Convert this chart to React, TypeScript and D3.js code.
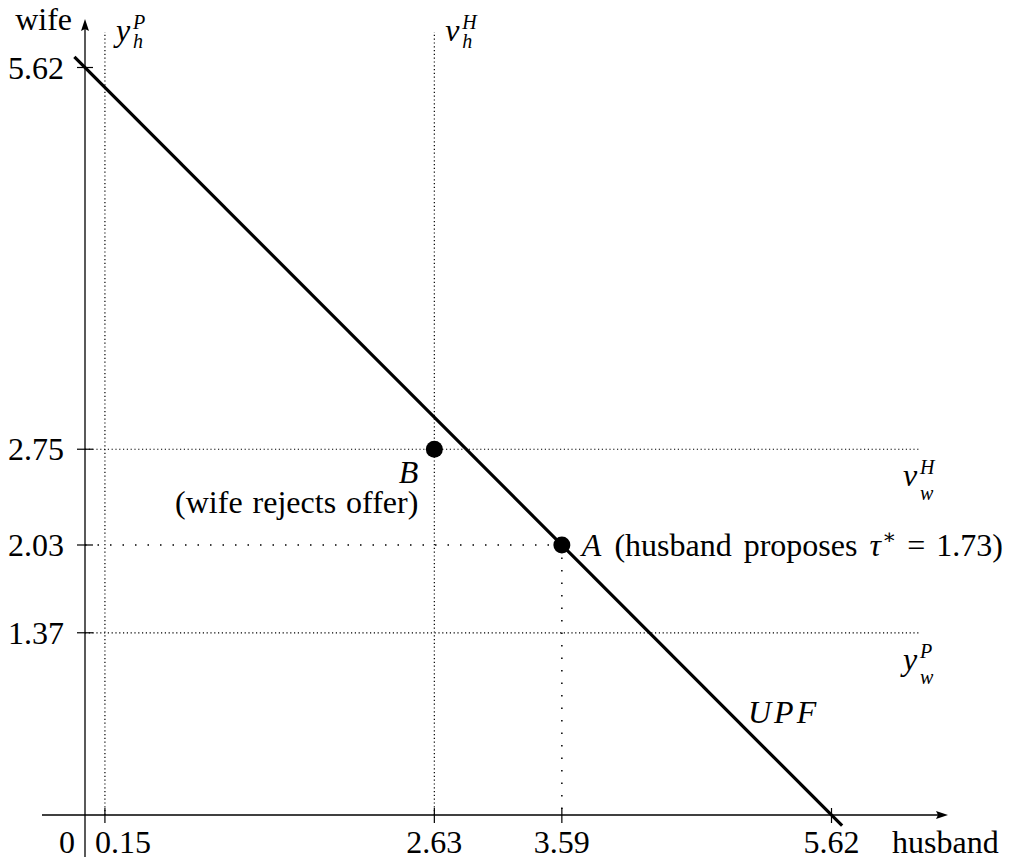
import React from 'react';
import * as d3 from 'd3';

// values
const axisMax = 5.62;
const xTicks = [0.15, 2.63, 3.59, 5.62];
const yTicks = [5.62, 2.75, 2.03, 1.37];
const upfIntercept = 5.62;
const upfExtent = [-0.08, 5.7];
const vertRefs = [
  { value: 0.15, main: 'y', sup: 'P', sub: 'h' },
  { value: 2.63, main: 'v', sup: 'H', sub: 'h' },
];
const horizRefs = [
  { value: 2.75, main: 'v', sup: 'H', sub: 'w' },
  { value: 1.37, main: 'y', sup: 'P', sub: 'w' },
];
const pointA = { x: 3.59, y: 2.03 };
const pointB = { x: 2.63, y: 2.75 };
const tauStar = 1.73;

const W = 1017;
const H = 859;
const FONT = "'Liberation Serif', 'DejaVu Serif', serif";

const x = d3.scaleLinear().domain([0, axisMax]).range([85, 831.5]);
const y = d3.scaleLinear().domain([0, axisMax]).range([815, 67.5]);

const dense = { stroke: '#000', strokeWidth: 1.2, strokeDasharray: '1.2 2.6' };
const sparse = { stroke: '#000', strokeWidth: 1.5, strokeDasharray: '1.5 11' };

// letter with super- and subscript, as one text element
const MathLabel = ({ px, py, main, sup, sub, subDy }: any) => (
  <text x={px} y={py} fontSize={32} fontStyle="italic" style={{ fontFamily: FONT }}>
    <tspan>{main}</tspan>
    <tspan x={px + 17} y={py - 12} fontSize={20}>{sup}</tspan>
    <tspan x={px + 17} y={py + subDy} fontSize={20}>{sub}</tspan>
  </text>
);

export default function App() {
  const x0 = x(0);
  const y0 = y(0);
  const upfLine = d3.line<number>()
    .x(d => x(d))
    .y(d => y(upfIntercept - d));

  const bx = x(pointB.x) - 16;

  return (
    <svg width={W} height={H} style={{ position: 'absolute', left: 0, top: 0, background: '#fff' }}>
      <rect width={W} height={H} fill="#fff" />

      {/* reference lines */}
      {vertRefs.map(r => (
        <line key={'v' + r.value} x1={x(r.value)} x2={x(r.value)} y1={y0} y2={32} {...dense} />
      ))}
      {horizRefs.map(r => (
        <line key={'h' + r.value} x1={x0} x2={920} y1={y(r.value)} y2={y(r.value)} {...dense} />
      ))}
      <line x1={x0} x2={x(pointA.x)} y1={y(pointA.y)} y2={y(pointA.y)} {...sparse} />
      <line x1={x(pointA.x)} x2={x(pointA.x)} y1={y(pointA.y)} y2={y0} {...sparse} />

      {/* axes */}
      <line x1={42} x2={940} y1={y0} y2={y0} stroke="#000" strokeWidth={1.3} />
      <path d={`M948,${y0} L936,${y0 - 4} L938,${y0} L936,${y0 + 4} Z`} fill="#000" />
      <line x1={x0} x2={x0} y1={857} y2={27} stroke="#000" strokeWidth={1.3} />
      <path d={`M${x0},19 L${x0 - 4},31 L${x0},29 L${x0 + 4},31 Z`} fill="#000" />

      {xTicks.map(t => (
        <line key={'xt' + t} x1={x(t)} x2={x(t)} y1={y0 - 7} y2={y0 + 8} stroke="#000" strokeWidth={1.2} />
      ))}
      {yTicks.map(t => (
        <line key={'yt' + t} x1={x0 - 8} x2={x0 + 8} y1={y(t)} y2={y(t)} stroke="#000" strokeWidth={1.2} />
      ))}

      {/* UPF */}
      <path d={upfLine(upfExtent) || ''} fill="none" stroke="#000" strokeWidth={3.2} />

      {/* points */}
      <circle cx={x(pointB.x)} cy={y(pointB.y)} r={8.5} fill="#000" />
      <circle cx={x(pointA.x)} cy={y(pointA.y)} r={8.5} fill="#000" />

      {/* tick labels */}
      <g style={{ fontFamily: FONT }} fontSize={32} fill="#000">
        {yTicks.map(t => (
          <text key={'yl' + t} x={64} y={y(t) + 11} textAnchor="end">{t.toFixed(2)}</text>
        ))}
        <text x={x0 - 10} y={853} textAnchor="end">0</text>
        {xTicks.map((t, i) => (
          i === 0
            ? <text key={'xl' + t} x={x0 + 10} y={853}>{t.toFixed(2)}</text>
            : <text key={'xl' + t} x={x(t)} y={853} textAnchor="middle">{t.toFixed(2)}</text>
        ))}
        <text x={72} y={30} textAnchor="end">wife</text>
        <text x={892} y={853}>husband</text>

        <text textAnchor="end">
          <tspan x={bx} y={y(pointB.y) + 34} fontStyle="italic">B</tspan>
          <tspan x={bx} y={y(pointB.y) + 64} wordSpacing={2}>(wife rejects offer)</tspan>
        </text>

        <text x={x(pointA.x) + 20} y={y(pointA.y) + 11}>
          <tspan fontStyle="italic">A</tspan>
          <tspan dx={13} wordSpacing={4}>(husband proposes</tspan>
          <tspan dx={12} fontStyle="italic">τ</tspan>
          <tspan dx={1} fontSize={21} dy={-12}>∗</tspan>
          <tspan dx={11} dy={12}>=</tspan>
          <tspan dx={11}>{tauStar.toFixed(2)})</tspan>
        </text>

        <text x={748} y={723} fontStyle="italic" letterSpacing={3}>UPF</text>
      </g>

      {/* reference line labels */}
      {vertRefs.map(r => (
        <MathLabel key={'vl' + r.value} px={x(r.value) + 11} py={41} main={r.main} sup={r.sup} sub={r.sub} subDy={7} />
      ))}
      {horizRefs.map(r => (
        <MathLabel key={'hl' + r.value} px={903} py={y(r.value) + 37} main={r.main} sup={r.sup} sub={r.sub} subDy={14} />
      ))}
    </svg>
  );
}
